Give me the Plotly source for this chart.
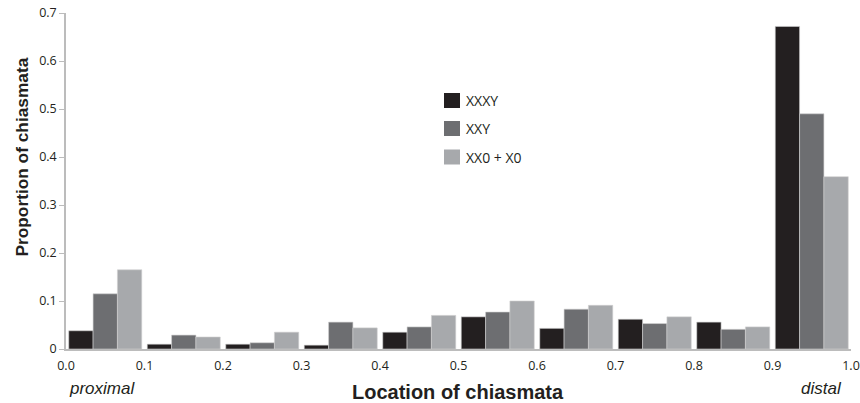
import plotly.graph_objects as go

bins = [0.05, 0.15, 0.25, 0.35, 0.45, 0.55, 0.65, 0.75, 0.85, 0.95]
series_names = ["XXXY", "XXY", "XX0 + X0"]
xxxy = [0.038, 0.010, 0.010, 0.008, 0.035, 0.067, 0.043, 0.062, 0.056, 0.672]
xxy = [0.115, 0.029, 0.013, 0.056, 0.046, 0.077, 0.083, 0.053, 0.041, 0.490]
xx0 = [0.165, 0.025, 0.035, 0.044, 0.070, 0.100, 0.091, 0.067, 0.046, 0.359]
colors = ["#231f20", "#6d6e71", "#a7a9ac"]

x_ticks = [0.0, 0.1, 0.2, 0.3, 0.4, 0.5, 0.6, 0.7, 0.8, 0.9, 1.0]
y_ticks = [0, 0.1, 0.2, 0.3, 0.4, 0.5, 0.6, 0.7]
y_ticktext = ["0", "0.1", "0.2", "0.3", "0.4", "0.5", "0.6", "0.7"]

W, H = 860, 403
ML, MR, MT, MB = 66, 9, 13, 54
PW, PH = W - ML - MR, H - MT - MB


def px(x):
    return (x - ML) / PW


def py(y):
    return (H - MB - y) / PH


fig = go.Figure()
for name, vals, col in zip(series_names, [xxxy, xxy, xx0], colors):
    fig.add_trace(go.Bar(
        x=bins, y=vals, name=name, showlegend=False,
        marker=dict(color=col, line=dict(color="#d0d0d0", width=0.6)),
    ))

# manual legend (bigger swatches like the reference)
shapes = []
annotations = []
row_centers = [100.5, 128.5, 157]
for name, col, yc in zip(series_names, colors, row_centers):
    shapes.append(dict(type="rect", xref="paper", yref="paper",
                       x0=px(444), x1=px(460), y0=py(yc + 7.5), y1=py(yc - 7.5),
                       fillcolor=col, line=dict(width=0)))
    annotations.append(dict(text=name, xref="paper", yref="paper", x=px(464), y=py(yc),
                            xanchor="left", yanchor="middle", showarrow=False,
                            font=dict(family="Open Sans, sans-serif", size=14, color="#231f20")))

annotations += [
    dict(text="<b>Location of chiasmata</b>", x=px(458), y=py(392), xref="paper", yref="paper",
         xanchor="center", yanchor="middle", showarrow=False,
         font=dict(family="Arial, Liberation Sans, sans-serif", size=20, color="#231f20")),
    dict(text="<b>Proportion of chiasmata</b>", x=px(21), y=py(157.5), xref="paper", yref="paper",
         xanchor="center", yanchor="middle", showarrow=False, textangle=-90,
         font=dict(family="Arial, Liberation Sans, sans-serif", size=17.3, color="#231f20")),
    dict(text="<i>proximal</i>", x=px(67), y=py(388), xref="paper", yref="paper",
         xanchor="left", yanchor="middle", showarrow=False,
         font=dict(family="Arial, Liberation Sans, sans-serif", size=17, color="#231f20")),
    dict(text="<i>distal</i>", x=px(844), y=py(388), xref="paper", yref="paper",
         xanchor="right", yanchor="middle", showarrow=False,
         font=dict(family="Arial, Liberation Sans, sans-serif", size=17, color="#231f20")),
]

fig.update_layout(
    width=W, height=H,
    margin=dict(l=ML, r=MR, t=MT, b=MB),
    paper_bgcolor="white", plot_bgcolor="white",
    barmode="group", bargap=0.07, bargroupgap=0,
    font=dict(family="Open Sans, Arial, sans-serif", size=12.5, color="#231f20"),
    showlegend=False,
    xaxis=dict(range=[0, 1.0], tickvals=x_ticks, ticktext=[f"{v:.1f}" for v in x_ticks],
               showgrid=False, zeroline=False, showline=True, linecolor="#bcbcbc",
               linewidth=1.5, ticks="", tickfont=dict(size=12.5), automargin=False,
               ticklabelstandoff=4),
    yaxis=dict(range=[0, 0.7], tickvals=y_ticks, ticktext=y_ticktext,
               showgrid=False, zeroline=False, showline=True, linecolor="#bcbcbc",
               linewidth=1.5, ticks="outside", ticklen=5, tickcolor="#bcbcbc",
               tickfont=dict(size=12.5), automargin=False),
    shapes=shapes,
    annotations=annotations,
)

fig.write_html("out.html", config={"displayModeBar": False},
               post_script="document.body.style.margin='0';document.body.style.overflow='hidden';")
